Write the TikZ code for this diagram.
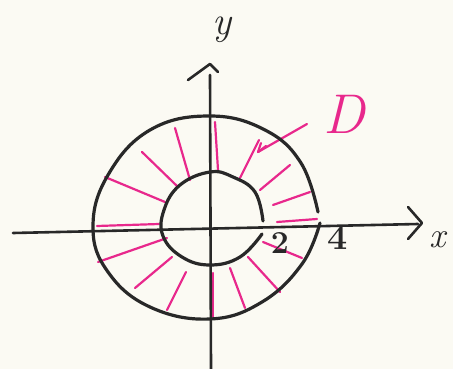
\documentclass[tikz,border=0pt]{standalone}
\usepackage{tikz}
\definecolor{ink}{RGB}{40,40,40}
\definecolor{pinkink}{RGB}{232,40,140}
\definecolor{paper}{RGB}{251,250,243}
\begin{document}
\begin{tikzpicture}[x=1pt,y=-1pt,
  blackline/.style={draw=ink,line width=3.2pt,line cap=round,line join=round},
  hatch/.style={draw=pinkink,line width=2.2pt,line cap=round},
  lbl/.style={text=ink,inner sep=0pt},
  plbl/.style={text=pinkink,inner sep=0pt}]
\fill[paper] (0,0) rectangle (453,369);
\useasboundingbox (0,0) rectangle (453,369);
% hatching
\foreach \a/\b/\c/\d in {215/122/218/170, 175/128/190/180, 142/152/177/186, 105/177/165/202,
  97/226/159/224, 98/262/167/238, 135/288/172/257, 167/310/186/272, 213/273/213/317,
  230/268/245/308, 248/257/280/292, 263/242/302/258, 277/222/317/219, 273/205/310/192,
  260/190/290/165, 240/178/259/140}
  \draw[hatch] (\a,\b) -- (\c,\d);
% D pointer
\coordinate (dtail) at (307,124);
\coordinate (dhead) at (258,152);
\draw[hatch] (dtail) -- (dhead);
\draw[hatch] (dhead) -- ++(8,-6);
\draw[hatch] (dhead) -- ++(3,-9);
% axes
\coordinate (xl) at (13,233);
\coordinate (xr) at (418,224);
\coordinate (yb) at (211,369);
\coordinate (yt) at (210,75);
\draw[blackline,line width=2.6pt] (xl) -- (xr);
\draw[blackline,line width=2.6pt] (yb) -- (yt);
\draw[blackline,line width=2.6pt] (408,207) -- (422,223) -- (408,239);
\draw[blackline,line width=2.6pt] (188,80) -- (210,64) -- (218,72);
% outer boundary
\draw[blackline] plot[smooth,tension=0.7] coordinates {(318,212) (301,163) (265,130) (210,116)
  (150,130) (108,175) (93,227) (108,272) (150,307) (210,319) (262,302) (302,264) (320,223)};
% inner boundary
\draw[blackline] plot[smooth,tension=0.7] coordinates {(263,221) (255,192) (233,177) (210,172)
  (180,185) (164,210) (163,236) (182,257) (210,265) (240,257) (262,234)};
% labels
\node[lbl,font=\fontsize{40}{40}\selectfont\itshape] (ylab) at (222,30) {y};
\node[lbl,font=\fontsize{36}{36}\selectfont\itshape] (xlab) at (438,240) {x};
\node[plbl,font=\fontsize{56}{56}\selectfont\itshape] (dlab) at (344,114) {D};
\node[lbl,font=\fontsize{32}{32}\selectfont\bfseries] (two) at (280,243) {2};
\node[lbl,font=\fontsize{36}{36}\selectfont\bfseries] (four) at (338,238) {4};
\end{tikzpicture}
\end{document}
